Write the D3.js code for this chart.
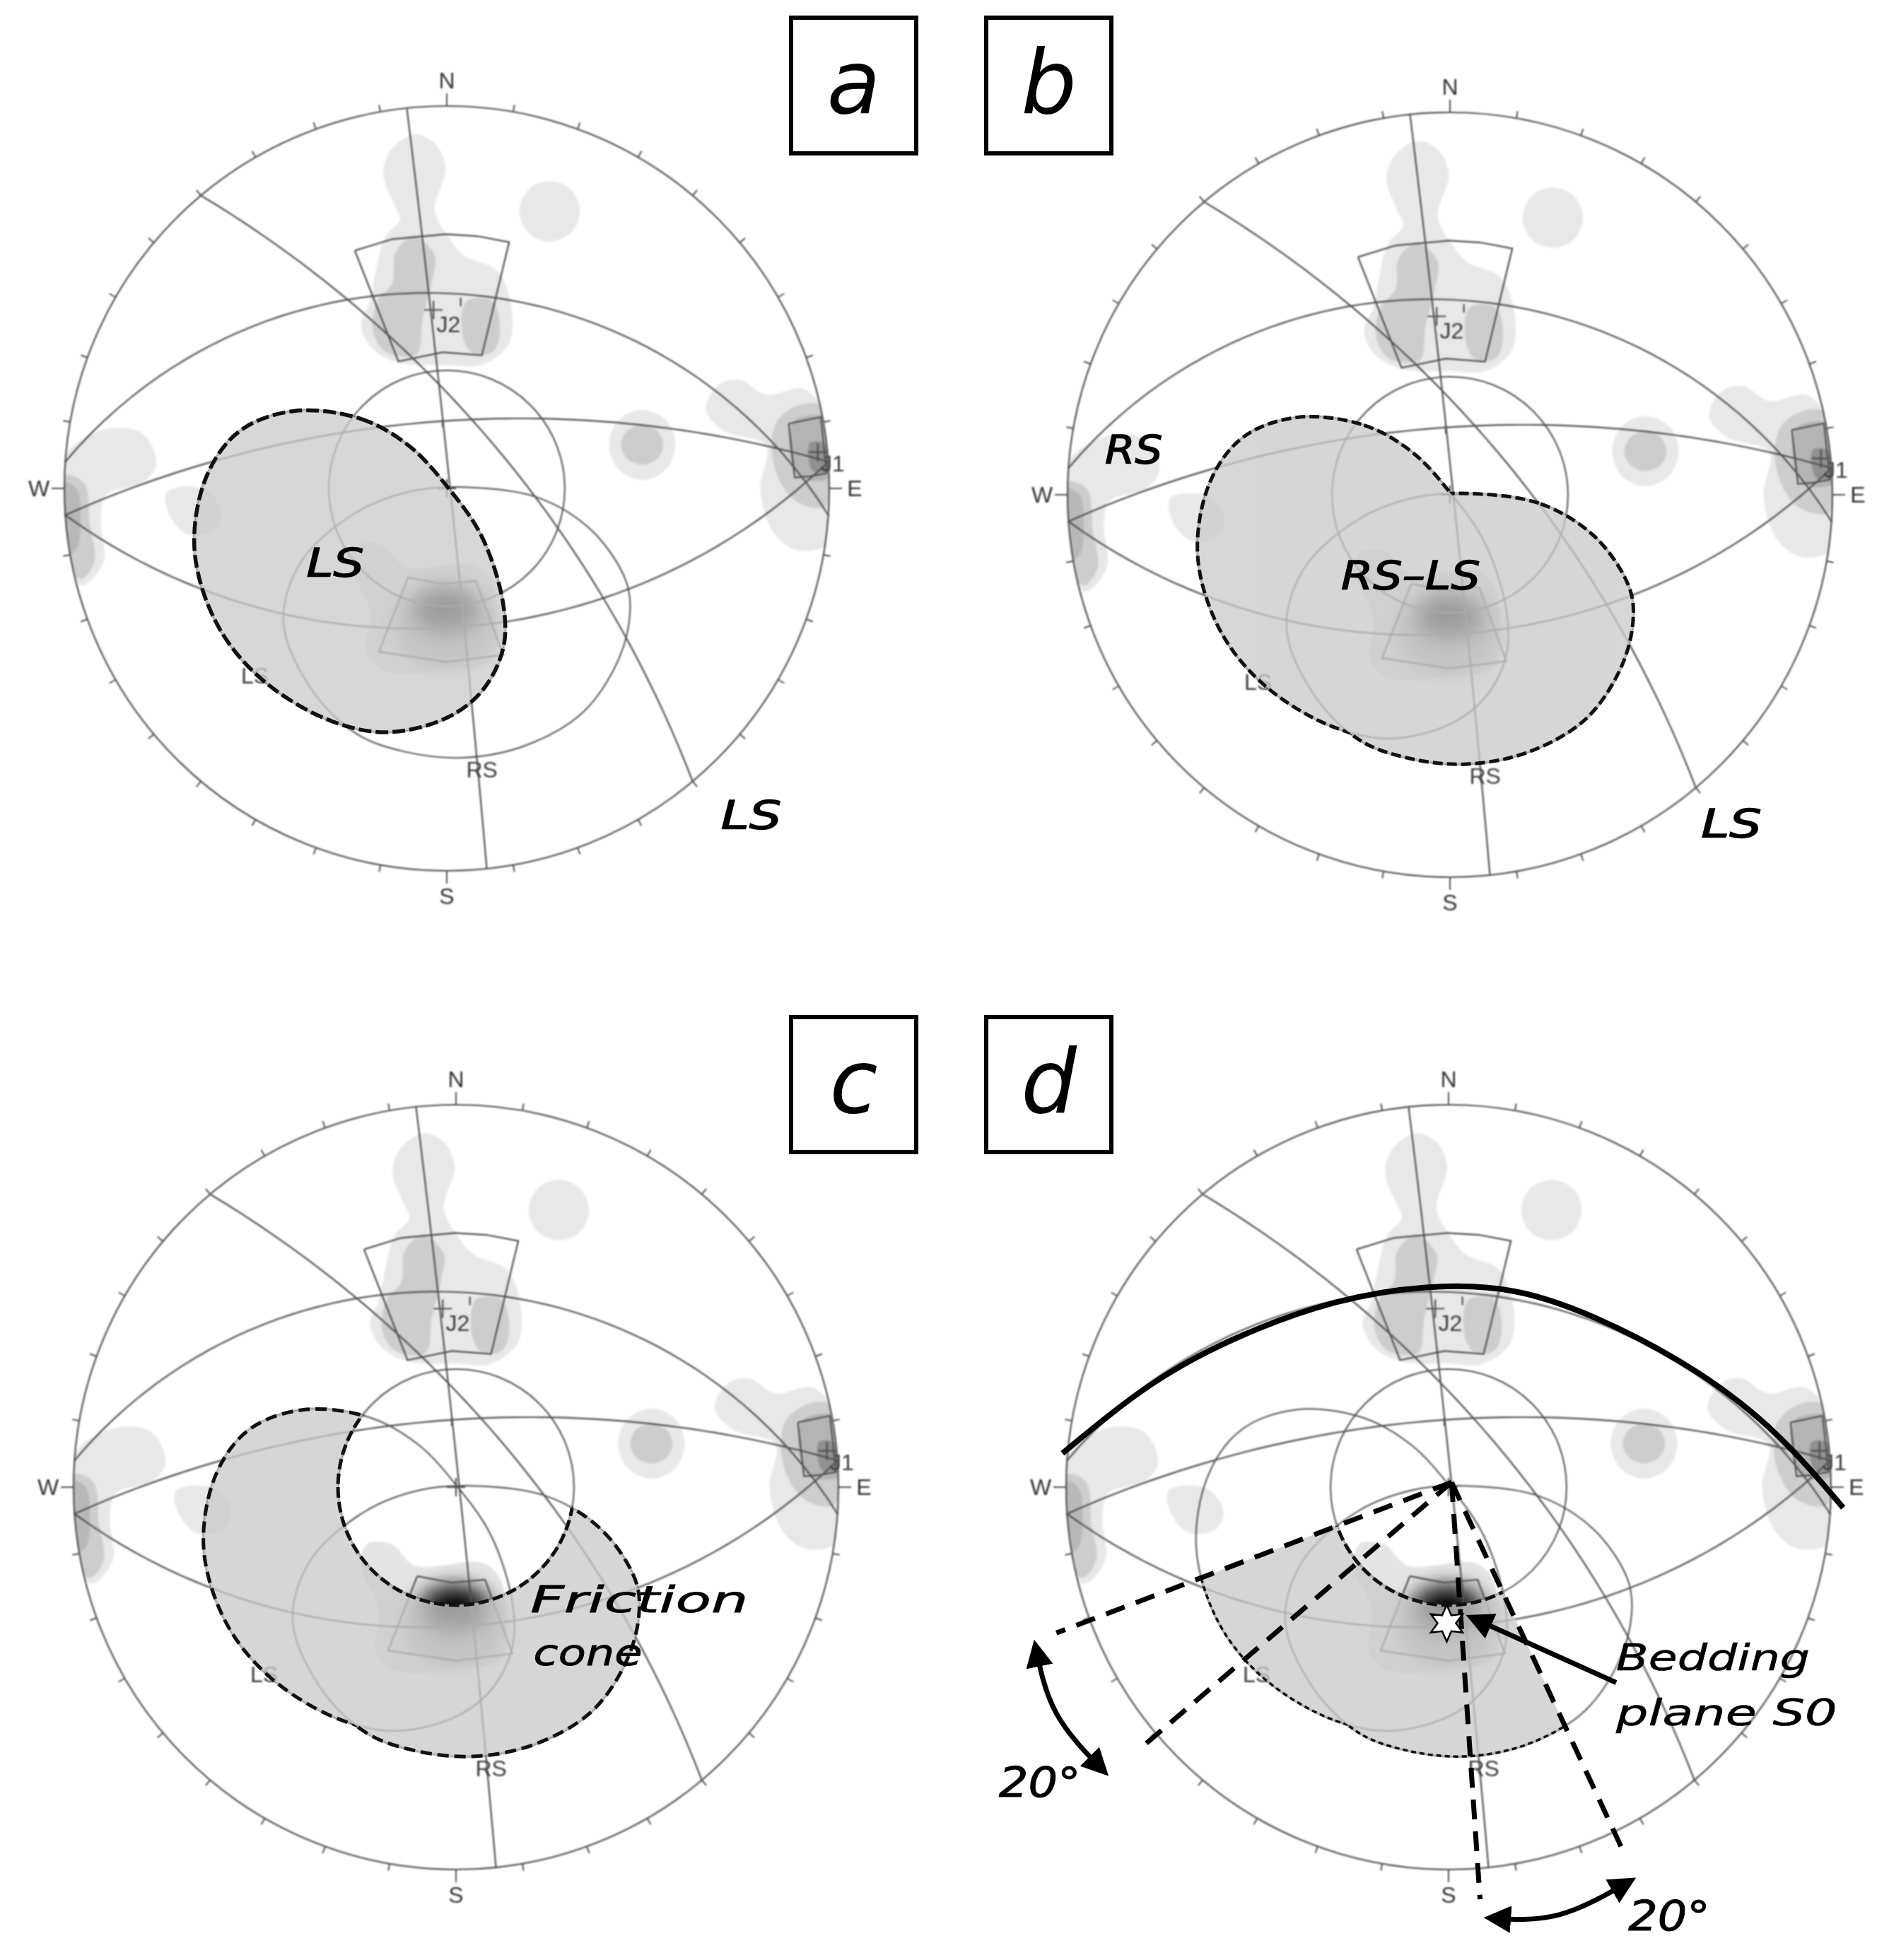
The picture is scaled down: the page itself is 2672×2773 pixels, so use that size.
<!DOCTYPE html>
<html>
<head>
<meta charset="utf-8">
<title>Stereonets</title>
<script src="https://cdn.jsdelivr.net/npm/d3@7"></script>
<style>
body{margin:0;background:#fff;}
text{font-family:"DejaVu Sans";}
</style>
</head>
<body>
<svg id="basicSVG" width="2672" height="2773"></svg>
<script>
//planes, read from the arcs of the net (dip direction / dip, degrees)
var planeDipDirs = [4,356,176,50,84];
var planeDips = [36,70,50,71,89];
var tickAzimuths = d3.range(0,360,10);
var compassLabels = ["N","E","S","W"];

//everything below is in net units: centre 0,0 and rim at 632
var netRim = 632;
var frictionCone = 195;
var lsEnvelope = [[-252,128],[-142,115],[-62,70],[3,0],[58,-80],[93,-190],[93,-265],[58,-335],[-2,-380],[-102,-403],[-202,-380],[-312,-310],[-382,-220],[-417,-100],[-397,20],[-342,95]];
var rsEnvelope = [[28,2],[150,-15],[240,-70],[295,-150],[303,-200],[285,-280],[225,-370],[130,-425],[28,-445],[-70,-435],[-150,-405],[-225,-330],[-270,-220],[-240,-120],[-150,-40],[-60,-5]];

//density contours
var contourLevels = ["#e8e8e8","#e8e8e8","#e8e8e8","#e8e8e8","#e8e8e8","#e8e8e8","#cdcdcd","#cdcdcd","#cdcdcd","#cdcdcd","#cdcdcd","#b8b8b8","#b4b4b4","#909090"];
var contourShapes = [
	[[-52,585],[-92,560],[-105,520],[-87,470],[-77,445],[-102,415],[-117,360],[-127,310],[-142,270],[-122,230],[-77,207],[-2,204],[58,204],[103,240],[105,310],[83,360],[28,385],[3,415],[-20,460],[-2,530],[-20,570]],
	[[170,508],[205,494],[220,458],[205,422],[170,408],[135,422],[120,458],[135,494]],
	[[323,130],[362,113],[378,72],[362,31],[323,14],[284,31],[268,72],[284,113]],
	[[428,130],[448,170],[483,180],[528,155],[588,165],[623,130],[638,10],[633,-90],[578,-102],[538,-70],[518,0],[528,70],[458,95]],
	[[-637,40],[-612,75],[-552,100],[-502,90],[-480,40],[-502,10],[-562,-10],[-572,-50],[-567,-120],[-602,-160],[-632,-120]],
	[[-462,-5],[-400,-2],[-372,-40],[-385,-70],[-430,-75],[-460,-40]],
	[[-54,417],[-85,390],[-90,340],[-115,310],[-122,260],[-100,225],[-50,222],[-40,280],[-25,340],[-20,385]],
	[[33,310],[75,310],[88,260],[75,225],[40,225],[25,260]],
	[[323,105],[348,95],[358,72],[348,49],[323,39],[298,49],[288,72],[298,95]],
	[[590,140],[633,130],[636,20],[625,-30],[575,-20],[540,40],[545,110]],
	[[-637,20],[-600,10],[-590,-60],[-582,-120],[-605,-150],[-632,-120]],
	[[-637,10],[-612,0],[-605,-50],[-612,-100],[-632,-110]],
	[[572,110],[633,115],[636,20],[580,20]],
	[[600,75],[632,70],[634,30],[605,28]]
];
var centralLight = [[-147,-94],[-107,-94],[-67,-130],[43,-125],[73,-151],[82,-222],[75,-284],[3,-299],[-97,-304],[-132,-273],[-127,-202],[-157,-130]];
var centralCoreX = [-3,-2,-2];
var centralCoreY = [-225,-203,-197];
var centralCoreRx = [85,62,40];
var centralCoreRy = [75,46,24];
var centralCoreFill = ["#b4b4b4","#3c3c3c","#000000"];

//pit slope windows
var setWindows = [
	[[-152,393],[-90,412],[-2,420],[50,417],[103,407],[58,220],[-7,225],[-80,210],[-152,393]],
	[[565,107],[618,118],[628,25],[600,20],[575,18],[565,107]],
	[[-64,-147],[-7,-158],[48,-153],[93,-275],[0,-287],[-112,-270],[-64,-147]]
];

var plusMarks = [[-22,295],[613,60],[0,0]];
var poleTicks = [[23,315],[-7,115]];
var setLabels = ["J2","J1","RS","LS"];
var setLabelX = [-17,618,32,-340];
var setLabelY = [258,28,-478,-322];

//annotations: text, panel, left, right, baseline, size
var noteTexts = ["LS","LS","RS","RS\u2013LS","LS","Friction","cone","Bedding","plane S0","20\u00b0","20\u00b0"];
var notePanels = [0,0,1,1,1,2,2,3,3,3,3];
var noteLeft = [-232,453,-570,-180,415,123,128,277,277,-743,297];
var noteRight = [-137,553,-475,50,515,483,308,597,642,-608,432];
var noteBase = [-145,-562,52,-155,-565,-207,-294,-302,-394,-512,-732];
var noteSize = [56,56,56,56,56,52,52,52,52,58,58];
var noteStroke = [1.4,1.4,1.4,1.4,1.4,0.8,0.8,0.6,0.6,1,1];

//panel d
var beddingArc = [[-638,56],[-488,172],[-338,252],[-188,305],[-38,330],[112,323],[262,271],[412,189],[542,87],[652,-34]];
var wedgeApex = [5,8];
var wedgeEnds = [[-648,-241],[-513,-435],[52,-681],[292,-609]];
var beddingStar = [-3,-225];
var beddingArrow = [[277,-323],[37,-215]];
var swingArrows = [[[-683,-261],[-648,-374],[-568,-471]],[[67,-712],[182,-707],[302,-650]]];

//layout
var panelNames = ["a","b","c","d"];
var panelCx = [632,2051,645,2049];
var panelCy = [691,700,2104,2104];
var panelR = 541;
var boxX = [1119,1395,1119,1395];
var boxY = [25,25,1439,1439];
var boxW = 177;
var boxH = [192,192,191,191];

var lineColor = "#505050";
var svg = d3.select("#basicSVG");
var defs = svg.append("defs");
defs.append("filter").attr("id","soft").attr("x","-5%").attr("y","-5%").attr("width","110%").attr("height","110%")
	.append("feGaussianBlur").attr("stdDeviation",0.8);
defs.append("filter").attr("id","softer").attr("x","-5%").attr("y","-5%").attr("width","110%").attr("height","110%")
	.append("feGaussianBlur").attr("stdDeviation",1.5);
defs.append("filter").attr("id","core").attr("x","-50%").attr("y","-50%").attr("width","200%").attr("height","200%")
	.append("feGaussianBlur").attr("stdDeviation",11);
defs.append("marker").attr("id","head").attr("viewBox","0 0 10 10").attr("refX",8).attr("refY",5)
	.attr("markerWidth",5.5).attr("markerHeight",5.5).attr("orient","auto-start-reverse")
	.append("path").attr("d","M0,0 L10,5 L0,10 Z").attr("fill","#000");

//lower hemisphere equal angle trace of a plane
function greatCircle(dipDir,dip)
{
	var points = [];
	var dd = dipDir*Math.PI/180, dp = dip*Math.PI/180;
	for(var t=0;t<=180;t+=3)
	{
		var a = t*Math.PI/180;
		var vx = Math.cos(a)*Math.sin(dd-Math.PI/2) + Math.sin(a)*Math.sin(dd)*Math.cos(dp);
		var vy = Math.cos(a)*Math.cos(dd-Math.PI/2) + Math.sin(a)*Math.cos(dd)*Math.cos(dp);
		var vz = Math.sin(a)*Math.sin(dp);
		points.push([netRim*vx/(1+vz),netRim*vy/(1+vz)]);
	}
	return points;
}

function drawPanel(p)
{
	var cx = panelCx[p], cy = panelCy[p];
	var x = d3.scaleLinear().domain([-netRim,netRim]).range([cx-panelR,cx+panelR]);
	var y = d3.scaleLinear().domain([-netRim,netRim]).range([cy+panelR,cy-panelR]);
	var closed = d3.line().x(function(d){return x(d[0]);}).y(function(d){return y(d[1]);}).curve(d3.curveCatmullRomClosed.alpha(0.5));
	var open = d3.line().x(function(d){return x(d[0]);}).y(function(d){return y(d[1]);});
	var smooth = d3.line().x(function(d){return x(d[0]);}).y(function(d){return y(d[1]);}).curve(d3.curveNatural);
	var coneR = x(frictionCone)-x(0);
	var big = "M-100,-100H2800V2900H-100Z";
	var conePath = "M"+(x(0)-coneR)+","+y(0)+"a"+coneR+","+coneR+" 0 1,0 "+(2*coneR)+",0a"+coneR+","+coneR+" 0 1,0 "+(-2*coneR)+",0Z";
	var useRs = p>0, cutCone = p>1, useWedge = p==3;

	//clips
	defs.append("clipPath").attr("id","net"+p).append("circle").attr("cx",x(0)).attr("cy",y(0)).attr("r",panelR);
	defs.append("clipPath").attr("id","noCone"+p).append("path").attr("d",big+conePath).attr("clip-rule","evenodd");
	defs.append("clipPath").attr("id","noLs"+p).append("path").attr("d",big+closed(lsEnvelope)).attr("clip-rule","evenodd");
	defs.append("clipPath").attr("id","noRs"+p).append("path").attr("d",big+closed(rsEnvelope)).attr("clip-rule","evenodd");
	var both = defs.append("clipPath").attr("id","both"+p);
	both.append("path").attr("d",closed(lsEnvelope));
	both.append("path").attr("d",closed(rsEnvelope));
	defs.append("clipPath").attr("id","wedge"+p).append("path")
		.attr("d",open([wedgeApex,wedgeEnds[0],wedgeEnds[3]])+"Z");

	var g = svg.append("g").attr("id","panel"+panelNames[p]);

	//contours
	var contours = g.append("g").attr("clip-path","url(#net"+p+")").append("g").attr("filter","url(#softer)");
	contours.selectAll("path.contour").data(contourShapes).enter().append("path").attr("class","contour")
		.attr("d",closed).attr("fill",function(d,i){return contourLevels[i];});
	contours.append("path").attr("d",closed(centralLight)).attr("fill","#e4e4e4");
	var core = g.append("g").attr("filter","url(#core)");
	centralCoreX.forEach(function(v,i){
		core.append("ellipse").attr("cx",x(v)).attr("cy",y(centralCoreY[i]))
			.attr("rx",x(centralCoreRx[i])-x(0)).attr("ry",x(centralCoreRy[i])-x(0)).attr("fill",centralCoreFill[i]);
	});

	var lines = g.append("g").attr("filter","url(#soft)").attr("fill","none").attr("stroke",lineColor);

	//windows, envelopes, cone and planes
	lines.selectAll("path.window").data(setWindows).enter().append("path").attr("class","window")
		.attr("d",open).attr("stroke-width",2.2);
	lines.append("path").attr("d",closed(lsEnvelope)).attr("stroke-width",2);
	lines.append("path").attr("d",closed(rsEnvelope)).attr("stroke-width",2);
	lines.append("path").attr("d",conePath).attr("stroke-width",2);
	planeDipDirs.forEach(function(dd,i){
		lines.append("path").attr("d",open(greatCircle(dd,planeDips[i]))).attr("stroke-width",2.2);
	});
	plusMarks.forEach(function(m){
		lines.append("path").attr("stroke-width",2.2)
			.attr("d","M"+(x(m[0])-13)+","+y(m[1])+"h26M"+x(m[0])+","+(y(m[1])-13)+"v26");
	});
	poleTicks.forEach(function(m){
		lines.append("path").attr("stroke-width",2.2).attr("d","M"+x(m[0])+","+y(m[1])+"v12");
	});
	setLabels.forEach(function(t,i){
		g.append("text").text(t).attr("x",x(setLabelX[i])).attr("y",y(setLabelY[i]))
			.attr("font-size",32).attr("fill","#3c3c3c").attr("filter","url(#soft)")
			.style("font-family","'Liberation Sans'");
	});

	//shaded sliding zone, lines stay visible through it
	var shade = g.append("g").attr("opacity",0.76);
	if(cutCone) shade = shade.append("g").attr("clip-path","url(#noCone"+p+")");
	if(useWedge) shade = shade.append("g").attr("clip-path","url(#wedge"+p+")");
	shade.append("path").attr("d",closed(lsEnvelope)).attr("fill","#cacaca");
	if(useRs) shade.append("path").attr("d",closed(rsEnvelope)).attr("fill","#cacaca");

	//dashed outline of the zone
	var dashW = [5.5,5,5,3.5][p], dash = [["18 6"],["14 6"],["16 8"],["7 5"]][p];
	var outline = g.append("g").attr("fill","none").attr("stroke","#111").attr("stroke-width",dashW).attr("stroke-dasharray",dash);
	if(useWedge) outline = outline.append("g").attr("clip-path","url(#wedge"+p+")");
	var rim = outline;
	if(cutCone) rim = outline.append("g").attr("clip-path","url(#noCone"+p+")");
	var lsRim = useRs ? rim.append("g").attr("clip-path","url(#noRs"+p+")") : rim;
	lsRim.append("path").attr("d",closed(lsEnvelope));
	if(useRs) rim.append("g").attr("clip-path","url(#noLs"+p+")").append("path").attr("d",closed(rsEnvelope));
	if(cutCone) outline.append("g").attr("clip-path","url(#both"+p+")").append("path").attr("d",conePath).attr("stroke-width",5).attr("stroke-dasharray","15 6");

	//net
	var net = g.append("g").attr("filter","url(#soft)");
	net.append("circle").attr("cx",x(0)).attr("cy",y(0)).attr("r",panelR).attr("fill","none").attr("stroke",lineColor).attr("stroke-width",2.2);
	net.selectAll("line").data(tickAzimuths).enter().append("line")
		.attr("x1",function(d){return cx+panelR*Math.sin(d*Math.PI/180);})
		.attr("y1",function(d){return cy-panelR*Math.cos(d*Math.PI/180);})
		.attr("x2",function(d){var l=d%90==0?18:10;return cx+(panelR+l)*Math.sin(d*Math.PI/180);})
		.attr("y2",function(d){var l=d%90==0?18:10;return cy-(panelR+l)*Math.cos(d*Math.PI/180);})
		.attr("stroke",lineColor).attr("stroke-width",2);
	compassLabels.forEach(function(t,i){
		var a = i*Math.PI/2;
		net.append("text").text(t).attr("x",cx+(panelR+36)*Math.sin(a)).attr("y",cy-(panelR+36)*Math.cos(a)+11)
			.attr("text-anchor","middle").attr("font-size",32).attr("fill","#333")
			.style("font-family","'Liberation Sans'");
	});

	//letter box
	svg.append("rect").attr("x",boxX[p]).attr("y",boxY[p]).attr("width",boxW).attr("height",boxH[p])
		.attr("fill","#fff").attr("stroke","#000").attr("stroke-width",6);
	svg.append("text").text(panelNames[p]).attr("x",boxX[p]+boxW/2).attr("y",boxY[p]+boxH[p]/2+39)
		.attr("text-anchor","middle").attr("font-size",124).attr("font-style","italic").attr("fill","#000");

	if(useWedge)
	{
		g.append("path").attr("d",smooth(beddingArc)).attr("fill","none").attr("stroke","#000").attr("stroke-width",8);
		wedgeEnds.forEach(function(e,i){
			g.append("path").attr("d",open([wedgeApex,e])).attr("fill","none").attr("stroke","#000")
				.attr("stroke-width",7).attr("stroke-dasharray","28 17");
		});
		swingArrows.forEach(function(a){
			g.append("path").attr("d",smooth(a)).attr("fill","none").attr("stroke","#000").attr("stroke-width",7)
				.attr("marker-start","url(#head)").attr("marker-end","url(#head)");
		});
		g.append("path").attr("d",open(beddingArrow)).attr("fill","none").attr("stroke","#000").attr("stroke-width",7)
			.attr("marker-end","url(#head)");
		var star = d3.lineRadial().angle(function(d,i){return i*Math.PI/6;}).radius(function(d){return d;}).curve(d3.curveLinearClosed);
		g.append("path").attr("d",star([26,13,26,13,26,13,26,13,26,13,26,13]))
			.attr("transform","translate("+x(beddingStar[0])+","+y(beddingStar[1])+")")
			.attr("fill","#fff").attr("stroke","#000").attr("stroke-width",2.5);
	}

	//annotations
	noteTexts.forEach(function(t,i){
		if(notePanels[i]!=p) return;
		g.append("text").text(t).attr("x",x(noteLeft[i])).attr("y",y(noteBase[i]))
			.attr("textLength",x(noteRight[i])-x(noteLeft[i])).attr("lengthAdjust","spacingAndGlyphs")
			.attr("font-size",noteSize[i]).attr("font-style","italic").attr("fill","#000")
			.attr("stroke","#000").attr("stroke-width",noteStroke[i]);
	});
}

for(var p=0;p<panelNames.length;p++) drawPanel(p);
</script>
</body>
</html>
